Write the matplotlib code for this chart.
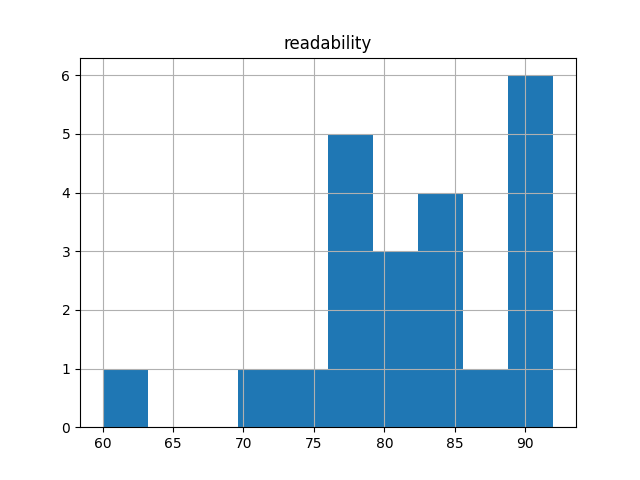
import matplotlib
matplotlib.use("Agg")
import matplotlib.pyplot as plt

# readability scores
readability = [60, 71, 74, 77, 77, 78, 78, 79, 80, 81, 82,
               83, 84, 85, 85, 87, 89, 90, 90, 91, 91, 92]

fig, ax = plt.subplots(figsize=(6.4, 4.8), dpi=100)
ax.hist(readability, bins=10, color="#1f77b4")
ax.grid(True)
ax.set_title("readability")

fig.savefig("out.png")
